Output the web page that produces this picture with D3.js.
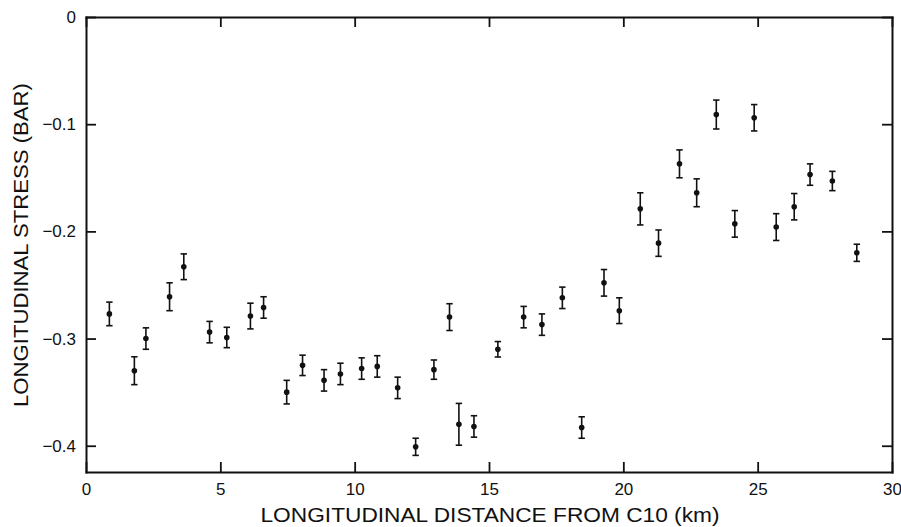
<!DOCTYPE html>
<html>
<head>
<meta charset="utf-8">
<script src="https://cdn.jsdelivr.net/npm/d3@7"></script>
<style>
  html, body { margin: 0; padding: 0; background: #fff; }
  svg { display: block; }
  text { font-family: "Liberation Sans", Arial, Helvetica, sans-serif; fill: #111; }
</style>
</head>
<body>
<svg id="chart" width="901" height="527"></svg>
<script>
// ---- data ----
const distanceKm = [0.87,1.80,2.23,3.11,3.64,4.60,5.24,6.12,6.61,7.47,8.06,8.86,9.47,10.26,10.84,11.60,12.27,12.95,13.53,13.88,14.44,15.33,16.29,16.97,17.73,18.45,19.28,19.85,20.63,21.31,22.09,22.73,23.46,24.15,24.87,25.69,26.36,26.95,27.78,28.69];
const stressBar = [-0.277,-0.330,-0.300,-0.261,-0.233,-0.294,-0.299,-0.279,-0.271,-0.350,-0.325,-0.339,-0.333,-0.328,-0.326,-0.346,-0.401,-0.329,-0.280,-0.380,-0.382,-0.310,-0.280,-0.287,-0.262,-0.383,-0.248,-0.274,-0.179,-0.211,-0.137,-0.164,-0.091,-0.193,-0.094,-0.196,-0.177,-0.147,-0.153,-0.220];
const stressErr = [0.011,0.013,0.010,0.013,0.012,0.010,0.0095,0.012,0.010,0.011,0.0095,0.010,0.010,0.010,0.010,0.010,0.008,0.009,0.0125,0.0195,0.010,0.0072,0.010,0.010,0.010,0.010,0.0124,0.012,0.015,0.0123,0.013,0.013,0.0135,0.0124,0.0123,0.0125,0.0123,0.010,0.009,0.008];
const xTicks = [0,5,10,15,20,25,30];
const yTicks = [0,-0.1,-0.2,-0.3,-0.4];
const yTickLabels = ["0","\u22120.1","\u22120.2","\u22120.3","\u22120.4"];
const xTitle = "LONGITUDINAL DISTANCE FROM C10 (km)";
const yTitle = "LONGITUDINAL STRESS (BAR)";

// ---- layout ----
const W = 901, H = 527;
const m = {left: 86, right: 9, top: 17, bottom: 55};
const iw = W - m.left - m.right, ih = H - m.top - m.bottom;

const svg = d3.select("#chart");
const g = svg.append("g").attr("transform", `translate(${m.left},${m.top})`);

const x = d3.scaleLinear().domain([0, 30]).range([0, iw]);
const y = d3.scaleLinear().domain([-0.4245, 0]).range([ih, 0]);

const styleAxis = sel => {
  sel.select(".domain").attr("stroke", "#111").attr("stroke-width", 2);
  sel.selectAll(".tick line").attr("stroke", "#111").attr("stroke-width", 1.8);
  sel.selectAll(".tick text").style("font-size", "17px").attr("fill", "#111");
};

g.append("g").attr("transform", `translate(0,${ih})`)
  .call(d3.axisBottom(x).tickValues(xTicks).tickSizeInner(-10).tickSizeOuter(0).tickPadding(11).tickFormat(d3.format("d")))
  .call(styleAxis);
g.append("g")
  .call(d3.axisTop(x).tickValues(xTicks).tickSizeInner(-10).tickSizeOuter(0).tickFormat(""))
  .call(styleAxis);
g.append("g")
  .call(d3.axisLeft(y).tickValues(yTicks).tickSizeInner(-10).tickSizeOuter(0).tickPadding(10)
    .tickFormat((d, i) => yTickLabels[i]))
  .call(styleAxis);
g.append("g").attr("transform", `translate(${iw},0)`)
  .call(d3.axisRight(y).tickValues(yTicks).tickSizeInner(-10).tickSizeOuter(0).tickFormat(""))
  .call(styleAxis);

svg.selectAll(".domain").attr("stroke-linecap", "square");

// ---- data marks ----
const pts = distanceKm.map((d, i) => ({x: d, y: stressBar[i], e: stressErr[i]}));
const cap = 3.2;
const eg = g.append("g").attr("stroke", "#111").attr("stroke-width", 1.6).attr("fill", "none");
eg.selectAll("line.v").data(pts).join("line").attr("class", "v")
  .attr("x1", d => x(d.x)).attr("x2", d => x(d.x))
  .attr("y1", d => y(d.y + d.e)).attr("y2", d => y(d.y - d.e));
eg.selectAll("line.t").data(pts).join("line").attr("class", "t")
  .attr("x1", d => x(d.x) - cap).attr("x2", d => x(d.x) + cap)
  .attr("y1", d => y(d.y + d.e)).attr("y2", d => y(d.y + d.e));
eg.selectAll("line.b").data(pts).join("line").attr("class", "b")
  .attr("x1", d => x(d.x) - cap).attr("x2", d => x(d.x) + cap)
  .attr("y1", d => y(d.y - d.e)).attr("y2", d => y(d.y - d.e));
g.append("g").selectAll("circle").data(pts).join("circle")
  .attr("cx", d => x(d.x)).attr("cy", d => y(d.y)).attr("r", 2.8).attr("fill", "#111");

// ---- titles ----
svg.append("text").attr("x", 490).attr("y", 521.5)
  .attr("text-anchor", "middle").style("font-size", "21px")
  .attr("textLength", 459).attr("lengthAdjust", "spacingAndGlyphs").text(xTitle);
svg.append("text").attr("transform", `translate(28,245) rotate(-90)`)
  .attr("text-anchor", "middle").style("font-size", "21px")
  .attr("textLength", 324).attr("lengthAdjust", "spacingAndGlyphs").text(yTitle);
</script>
</body>
</html>
